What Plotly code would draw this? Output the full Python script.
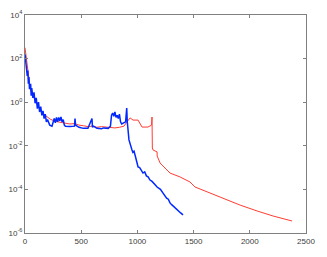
import numpy as np
import plotly.graph_objects as go

# Red series (iteration, log10 of value)
red_x = [0, 10, 20, 30, 45, 60, 90, 135, 180, 225, 270, 320, 360, 400, 440, 480, 520, 560, 600,
         640, 680, 720, 760, 800, 840, 880, 908, 935, 961, 1006, 1041, 1094, 1126, 1130, 1133,
         1139, 1175, 1176, 1202, 1290, 1380, 1468, 1513, 1620, 1762, 1914, 2065, 2207, 2376]
red_exp = [2.5, 2.1, 1.5, 1.1, 0.7, 0.4, 0.1, -0.35, -0.6, -0.78, -0.88, -0.92, -0.97, -1.0,
           -0.98, -1.05, -1.08, -1.12, -1.1, -1.15, -1.12, -1.15, -1.18, -1.18, -1.15, -1.1, -0.9,
           -0.72, -0.82, -0.82, -1.14, -1.14, -1.05, -0.68, -2.1, -2.19, -2.28, -2.47, -2.79, -3.25,
           -3.43, -3.66, -3.89, -4.12, -4.39, -4.72, -4.99, -5.22, -5.45]

# Blue series (iteration, log10 of value)
blue_x = [0, 10, 20, 25, 30, 35, 40, 50, 55, 60, 70, 80, 90, 100, 110, 120, 130, 140, 150, 160,
          170, 180, 190, 200, 220, 240, 250, 260, 270, 280, 290, 300, 310, 320, 330, 340, 350, 360,
          400, 440, 445, 450, 480, 520, 560, 596, 600, 610, 640, 680, 700, 740, 760, 770, 780, 790,
          800, 810, 820, 830, 840, 850, 860, 880, 895, 905, 910, 925, 935, 945, 952, 960, 970, 979,
          990, 1006, 1020, 1035, 1050, 1065, 1080, 1095, 1112, 1128, 1145, 1160, 1175, 1190, 1205,
          1228, 1245, 1260, 1275, 1290, 1305, 1320, 1335, 1352, 1370, 1385, 1406]
blue_exp = [2.2, 1.6, 1.2, 1.45, 0.85, 1.15, 0.6, 0.85, 0.3, 0.65, 0.2, 0.45, -0.05, 0.2, -0.3,
            0.0, -0.45, -0.2, -0.6, -0.4, -0.75, -0.55, -0.9, -0.8, -1.05, -1.1, -0.9, -0.75, -0.95,
            -0.7, -0.9, -0.7, -0.85, -0.68, -0.9, -0.8, -1.05, -1.1, -1.12, -1.1, -0.75, -1.05,
            -1.15, -1.2, -1.2, -0.75, -1.15, -1.1, -1.2, -1.22, -1.18, -1.2, -1.1, -0.6, -0.5, -0.65,
            -0.45, -0.7, -0.6, -0.75, -0.55, -0.9, -1.0, -0.95, -0.9, -0.27, -0.9, -1.73, -1.95,
            -2.05, -2.19, -2.3, -2.25, -2.42, -2.65, -2.97, -3.0, -3.15, -3.25, -3.2, -3.38, -3.42,
            -3.57, -3.62, -3.7, -3.8, -3.89, -3.95, -4.0, -4.17, -4.3, -4.4, -4.45, -4.62, -4.7,
            -4.78, -4.85, -4.94, -5.0, -5.08, -5.17]

x_ticks = [0, 500, 1000, 1500, 2000, 2500]
y_exps = [-6, -4, -2, 0, 2, 4]

fig = go.Figure()
fig.add_trace(go.Scatter(x=red_x, y=10 ** np.array(red_exp), mode="lines",
                         line=dict(color="rgb(255,60,50)", width=1)))
fig.add_trace(go.Scatter(x=blue_x, y=10 ** np.array(blue_exp), mode="lines",
                         line=dict(color="rgb(0,40,255)", width=1.5)))

axis_common = dict(showgrid=False, zeroline=False, showline=True, linecolor="#808080",
                   linewidth=1, mirror="ticks", ticks="inside", ticklen=3, tickcolor="#808080",
                   automargin=False,
                   tickfont=dict(family="Liberation Sans, Arial", size=8, color="#404040"))
fig.update_xaxes(range=[0, 2500], tickvals=x_ticks, ticktext=[str(v) for v in x_ticks],
                 **axis_common)
fig.update_yaxes(type="log", range=[-6, 4], tickvals=[10.0 ** e for e in y_exps],
                 ticktext=["10<sup>%d</sup>" % e for e in y_exps], **axis_common)
fig.update_layout(width=311, height=241, margin=dict(l=17, r=13, t=7, b=16),
                  paper_bgcolor="white", plot_bgcolor="white", showlegend=False)
fig.write_html("out.html")
